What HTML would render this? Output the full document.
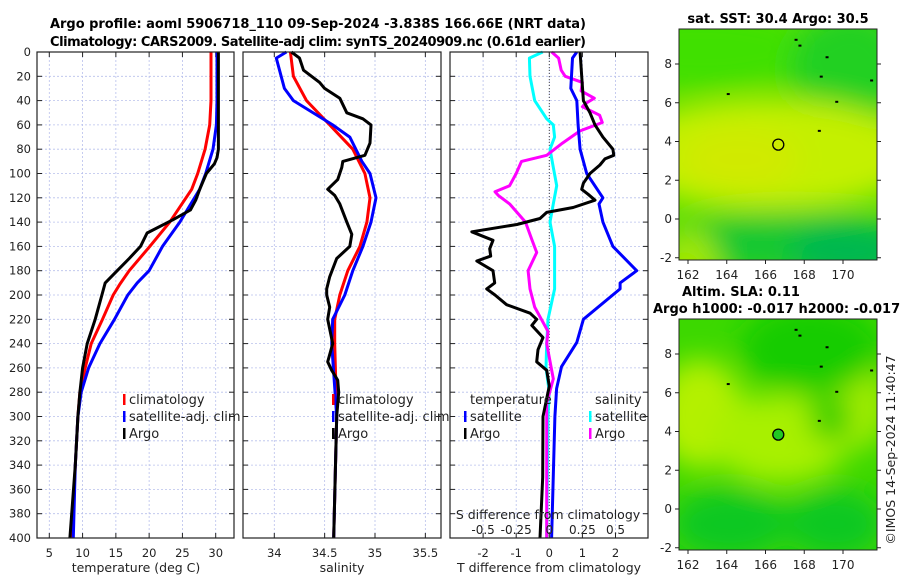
<!DOCTYPE html>
<html><head><meta charset="utf-8"><style>
body{margin:0;background:#fff}
svg{display:block;font-family:"DejaVu Sans","Liberation Sans",sans-serif}
</style></head><body>
<svg id="fig" width="900" height="580" viewBox="0 0 900 580" xmlns="http://www.w3.org/2000/svg">
<defs>
<filter id="blur" x="-50%" y="-50%" width="200%" height="200%"><feGaussianBlur stdDeviation="14"/></filter>
<clipPath id="map1clip"><rect x="679" y="29" width="198" height="231"/></clipPath>
<clipPath id="map2clip"><rect x="679" y="319" width="198" height="231"/></clipPath>
</defs>
<text x="318" y="28" font-size="13" font-weight="bold" text-anchor="middle" textLength="536">Argo profile: aoml 5906718_110 09-Sep-2024 -3.838S 166.66E (NRT data)</text>
<text x="318" y="46" font-size="13" font-weight="bold" text-anchor="middle" textLength="536">Climatology: CARS2009. Satellite-adj clim: synTS_20240909.nc (0.61d earlier)</text>
<g id="plots"></g>
<g id="maps"></g>
</svg>
<script>
// ---- temperature panel data ----
const climTDepth = [0,20,40,60,80,100,113,140,160,180,191,200,220,240,260,280,300,340,400];
const climTemp   = [29.3,29.3,29.3,29.1,28.4,27.3,26.4,23.1,20.1,17.0,15.6,14.6,13.0,11.3,10.4,9.6,9.3,8.9,8.4];
const satTDepth  = [0,20,40,60,80,100,113,140,160,180,190,200,220,240,260,280,300,340,400];
const satTemp    = [30.2,30.2,30.2,30.1,29.6,28.5,27.6,24.6,22.0,20.0,18.2,16.8,14.8,12.6,10.9,9.8,9.3,8.9,8.6];
const argoTDepth = [0,40,80,87,92,100,113,122,130,138,149,160,170,180,190,200,220,240,260,280,300,340,400];
const argoTemp   = [30.4,30.4,30.4,30.2,29.8,28.6,27.6,27.0,26.2,23.6,19.7,18.7,17.0,15.2,13.4,12.9,11.9,10.7,10.0,9.6,9.3,8.9,8.1];
// ---- salinity panel data ----
const climSDepth = [0,20,40,60,80,100,120,140,160,180,195,200,220,240,300,400];
const climSal    = [34.16,34.19,34.32,34.55,34.78,34.9,34.95,34.92,34.85,34.73,34.67,34.65,34.6,34.6,34.62,34.59];
const satSDepth  = [0,5,30,40,60,70,90,100,120,140,160,180,195,200,220,240,300,400];
const satSal     = [34.12,34.02,34.1,34.19,34.58,34.75,34.87,34.95,35.01,34.96,34.88,34.78,34.72,34.7,34.58,34.57,34.62,34.59];
const argoSDepth = [0,5,15,25,30,38,50,55,60,75,85,90,95,105,113,118,125,140,150,160,170,185,195,200,210,220,240,255,262,270,280,300,400];
const argoSal    = [34.17,34.25,34.29,34.45,34.5,34.65,34.72,34.88,34.96,34.95,34.9,34.68,34.67,34.63,34.53,34.6,34.65,34.72,34.77,34.75,34.62,34.55,34.52,34.52,34.55,34.53,34.58,34.53,34.57,34.63,34.64,34.62,34.59];
// ---- difference panel data ----
const satDTDepth = [0,5,30,40,60,80,100,120,125,140,160,180,190,195,220,239,259,277,300,400];
const satDT      = [0.83,0.7,0.65,0.83,0.87,0.93,1.13,1.62,1.5,1.62,1.92,2.64,2.14,2.14,1.03,0.83,0.37,0.22,0.17,0.07];
const argoDTDepth= [0,20,40,50,60,70,80,85,88,93,100,108,113,117,122,128,132,137,142,148,155,162,168,172,180,190,195,200,208,215,220,225,235,245,255,262,275,300,350,400];
const argoDT     = [0.93,0.98,1.03,1.23,1.38,1.62,1.92,1.95,1.68,1.53,1.23,1.03,0.98,1.17,1.38,0.72,-0.08,-0.28,-0.98,-2.34,-1.7,-1.8,-1.77,-2.19,-1.7,-1.65,-1.89,-1.64,-1.29,-0.58,-0.38,-0.53,-0.19,-0.34,-0.38,-0.08,0.0,-0.19,-0.2,-0.28];
const satDSDepth = [0,5,20,40,55,60,70,80,95,110,125,140,160,180,195,220,240,260,280,300,400];
const satDS      = [-0.05,-0.15,-0.146,-0.11,-0.02,0.03,0.04,0.005,0.03,0.056,0.03,0.005,0.04,0.04,0.04,-0.01,-0.02,-0.025,0,-0.01,-0.02];
const argoDSDepth= [0,5,15,20,25,32,38,42,45,52,58,65,75,85,90,100,110,115,118,125,140,155,165,180,195,210,220,230,240,269,289,300,400];
const argoDS     = [0.018,0.07,0.09,0.12,0.25,0.24,0.34,0.28,0.25,0.38,0.4,0.23,0.1,-0.02,-0.21,-0.25,-0.3,-0.41,-0.385,-0.3,-0.18,-0.13,-0.095,-0.16,-0.146,-0.11,-0.06,-0.01,-0.02,0.03,-0.02,-0.02,-0.02];
// ---- axis ticks ----
const depthTicks = [0,20,40,60,80,100,120,140,160,180,200,220,240,260,280,300,320,340,360,380,400];
const tempTicks = [5,10,15,20,25,30];
const salTicks = [34,34.5,35,35.5];
const salTickLabels = ["34","34.5","35","35.5"];
const dTTicks = [-2,-1,0,1,2];
const dSTicks = [-0.5,-0.25,0,0.25,0.5];
const dSTickLabels = ["-0.5","-0.25","0","0.25","0.5"];
const lonTicks = [162,164,166,168,170];
const latTicks = [-2,0,2,4,6,8];
const argoLon = 166.66, argoLat = 3.84;

const NS='http://www.w3.org/2000/svg';
const plots=document.getElementById('plots');
const maps=document.getElementById('maps');
function mk(tag,attrs,parent,txt){const e=document.createElementNS(NS,tag);for(const k in attrs)e.setAttribute(k,attrs[k]);if(txt!==undefined)e.textContent=txt;(parent||plots).appendChild(e);return e;}

const top0=52,bot0=538;
const yD=d=>top0+(d/400)*(bot0-top0);
function lin(d0,d1,r0,r1){return v=>r0+(v-d0)/(d1-d0)*(r1-r0);}
const xT=lin(5,30,49.3,215.7);
const xS=lin(34,35,274.3,375);
const xDT=lin(0,1,549.3,582.4);
const xDS=lin(0,0.25,549.3,582.4);

function panel(name,x0,x1,vticks,vx){
  const g=mk('g',{});
  
  
  depthTicks.forEach(d=>{ if(d>0&&d<400){const l=mk('line',{x1:x0,x2:x1,y1:yD(d),y2:yD(d),stroke:'#b8c0ec','stroke-width':0.8,'stroke-dasharray':'2,2'},g);
    
    }
    mk('line',{x1:x0,x2:x0+5,y1:yD(d),y2:yD(d),stroke:'#222','stroke-width':1},g);
    mk('line',{x1:x1-5,x2:x1,y1:yD(d),y2:yD(d),stroke:'#222','stroke-width':1},g);
  });
  vticks.forEach(v=>{const X=vx(v);const l=mk('line',{x1:X,x2:X,y1:top0,y2:bot0,stroke:'#b8c0ec','stroke-width':0.8,'stroke-dasharray':'2,2'},g);
    
    
    mk('line',{x1:X,x2:X,y1:bot0-5,y2:bot0,stroke:'#222'},g);
    mk('line',{x1:X,x2:X,y1:top0,y2:top0+5,stroke:'#222'},g);});
  return g;
}
function frame(x0,x1){const r=mk('rect',{x:x0,y:top0,width:x1-x0,height:bot0-top0,fill:'none',stroke:'#222','stroke-width':1.2});
  
  }
function series(name,depths,vals,xf,color){
  const pts=depths.map((d,i)=>xf(vals[i]).toFixed(1)+','+yD(d).toFixed(1)).join(' ');
  const p=mk('polyline',{points:pts,fill:'none',stroke:color,'stroke-width':3,'stroke-linejoin':'round'});
  
  
}

// panel 1
panel('temperature-panel',37,234,tempTicks,xT);
series('temp-climatology-line',climTDepth,climTemp,xT,'#ff0000');
series('temp-satellite-line',satTDepth,satTemp,xT,'#0000ff');
series('temp-argo-line',argoTDepth,argoTemp,xT,'#000000');
frame(37,234);
depthTicks.forEach(d=>{const t=mk('text',{x:31,y:yD(d)+4,'font-size':11.5,'text-anchor':'end',fill:'#222'},plots,String(d));
  
  });
tempTicks.forEach(v=>{const t=mk('text',{x:xT(v),y:557,'font-size':11.5,'text-anchor':'middle',fill:'#222'},plots,String(v));
  
  });
let t=mk('text',{x:136,y:572,'font-size':12.5,'text-anchor':'middle',fill:'#222'},plots,'temperature (deg C)');



// panel 2
panel('salinity-panel',243,441,salTicks,xS);
series('sal-climatology-line',climSDepth,climSal,xS,'#ff0000');
series('sal-satellite-line',satSDepth,satSal,xS,'#0000ff');
series('sal-argo-line',argoSDepth,argoSal,xS,'#000000');
frame(243,441);
salTicks.forEach((v,i)=>{const t=mk('text',{x:xS(v),y:557,'font-size':11.5,'text-anchor':'middle',fill:'#222'},plots,salTickLabels[i]);
  
  });
t=mk('text',{x:342,y:572,'font-size':12.5,'text-anchor':'middle',fill:'#222'},plots,'salinity');



// panel 3
panel('difference-panel',450,648,dTTicks,xDT);
mk('line',{x1:xDT(0),x2:xDT(0),y1:top0,y2:bot0,stroke:'#444','stroke-width':1,'stroke-dasharray':'1,2'});
series('satellite-S-diff-line',satDSDepth,satDS,xDS,'#00ffff');
series('argo-S-diff-line',argoDSDepth,argoDS,xDS,'#ff00ff');
series('satellite-T-diff-line',satDTDepth,satDT,xDT,'#0000ff');
series('argo-T-diff-line',argoDTDepth,argoDT,xDT,'#000000');
frame(450,648);
dTTicks.forEach(v=>{const t=mk('text',{x:xDT(v),y:557,'font-size':11.5,'text-anchor':'middle',fill:'#222'},plots,String(v));
  
  });
t=mk('text',{x:549,y:572,'font-size':12.5,'text-anchor':'middle',fill:'#222'},plots,'T difference from climatology');


t=mk('text',{x:548,y:519,'font-size':12.5,'text-anchor':'middle',fill:'#222'},plots,'S difference from climatology');


dSTicks.forEach((v,i)=>{const t=mk('text',{x:xDS(v),y:534,'font-size':12,'text-anchor':'middle',fill:'#222'},plots,dSTickLabels[i]);
  
  });

// legends
function legend(name,x,y,items){
  const g=mk('g',{});
  
  
  items.forEach((it,i)=>{
    if(it[0])mk('rect',{x:x-6,y:y+i*17-6,width:2.5,height:11,fill:it[0]},g);
    mk('text',{x:x,y:y+i*17+4,'font-size':13,fill:'#222'},g,it[1]);
  });
}
legend('temp-legend',129,400,[['#ff0000','climatology'],['#0000ff','satellite-adj. clim'],['#000000','Argo']]);
legend('salinity-legend',338,400,[['#ff0000','climatology'],['#0000ff','satellite-adj. clim'],['#000000','Argo']]);
legend('dT-legend',470,400,[[null,'temperature'],['#0000ff','satellite'],['#000000','Argo']]);
legend('dS-legend',595,400,[[null,'salinity'],['#00ffff','satellite'],['#ff00ff','Argo']]);

// maps
const xLon=lin(162,170,688,843);
function drawMap(name,y0,blobs,filled){
  const yLat=lin(0,8,y0+190,y0+35);
  const g=mk('g',{},maps);
  
  
  const inner=mk('g',{'clip-path':'url(#'+(y0<100?'map1clip':'map2clip')+')'},g);
  mk('rect',{x:679,y:y0,width:198,height:231,fill:blobs[0]},inner);
  const bg=mk('g',{filter:'url(#blur)'},inner);
  blobs.slice(1).forEach(b=>mk('ellipse',{cx:b[0],cy:y0+b[1],rx:b[2],ry:b[3],fill:b[4]},bg));
  mk('rect',{x:679,y:y0,width:198,height:231,fill:'none',stroke:'#222','stroke-width':1},g);
  lonTicks.forEach(v=>{mk('line',{x1:xLon(v),x2:xLon(v),y1:y0+231,y2:y0+235,stroke:'#222'},g);
    mk('text',{x:xLon(v),y:y0+250,'font-size':12,'text-anchor':'middle',fill:'#222'},g,String(v));});
  latTicks.forEach(v=>{mk('line',{x1:675,x2:679,y1:yLat(v),y2:yLat(v),stroke:'#222'},g);
    mk('line',{x1:877,x2:881,y1:yLat(v),y2:yLat(v),stroke:'#222'},g);
    mk('text',{x:672,y:yLat(v)+4,'font-size':12,'text-anchor':'end',fill:'#222'},g,String(v));});
  const c=mk('circle',{cx:xLon(argoLon),cy:yLat(argoLat),r:5.5,fill:filled?'#22c822':'none',stroke:'#000','stroke-width':1.3},g);
  
  
  [[164,6.5],[169.6,6.1],[168.7,4.6],[171.4,7.2],[168.8,7.4],[167.5,9.3],[167.7,9.0],[169.1,8.4]].forEach(p=>mk('rect',{x:xLon(p[0]),y:yLat(p[1]),width:3,height:2,fill:'#000'},g));
}
drawMap('sst-map',29,['#5ee000',[700,20,120,40,'#40e000'],[850,40,60,60,'#20d020'],[770,125,150,55,'#c4f000'],[740,130,60,30,'#d0ea00'],[790,215,130,32,'#18c830'],[850,225,60,30,'#00b850'],[690,240,30,40,'#a0e800']],false);
drawMap('sla-map',319,['#3cd800',[700,95,45,55,'#b4f000'],[780,120,70,45,'#a8f000'],[860,85,30,45,'#a0ec00'],[810,30,70,45,'#18cc00'],[830,100,20,22,'#20cc00'],[730,205,60,35,'#10c820'],[835,205,50,35,'#10c820']],true);

t=mk('text',{x:778,y:23,'font-size':13,'font-weight':'bold','text-anchor':'middle'},maps,'sat. SST: 30.4 Argo: 30.5');


t=mk('text',{x:682,y:296,'font-size':13,'font-weight':'bold'},maps,'Altim. SLA: 0.11');


t=mk('text',{x:653,y:313,'font-size':13,'font-weight':'bold'},maps,'Argo h1000: -0.017 h2000: -0.017');


t=mk('text',{x:0,y:0,'font-size':12.5,'text-anchor':'middle',transform:'translate(895,450) rotate(-90)',fill:'#222'},maps,'©IMOS 14-Sep-2024 11:40:47');


</script>
</body></html>
